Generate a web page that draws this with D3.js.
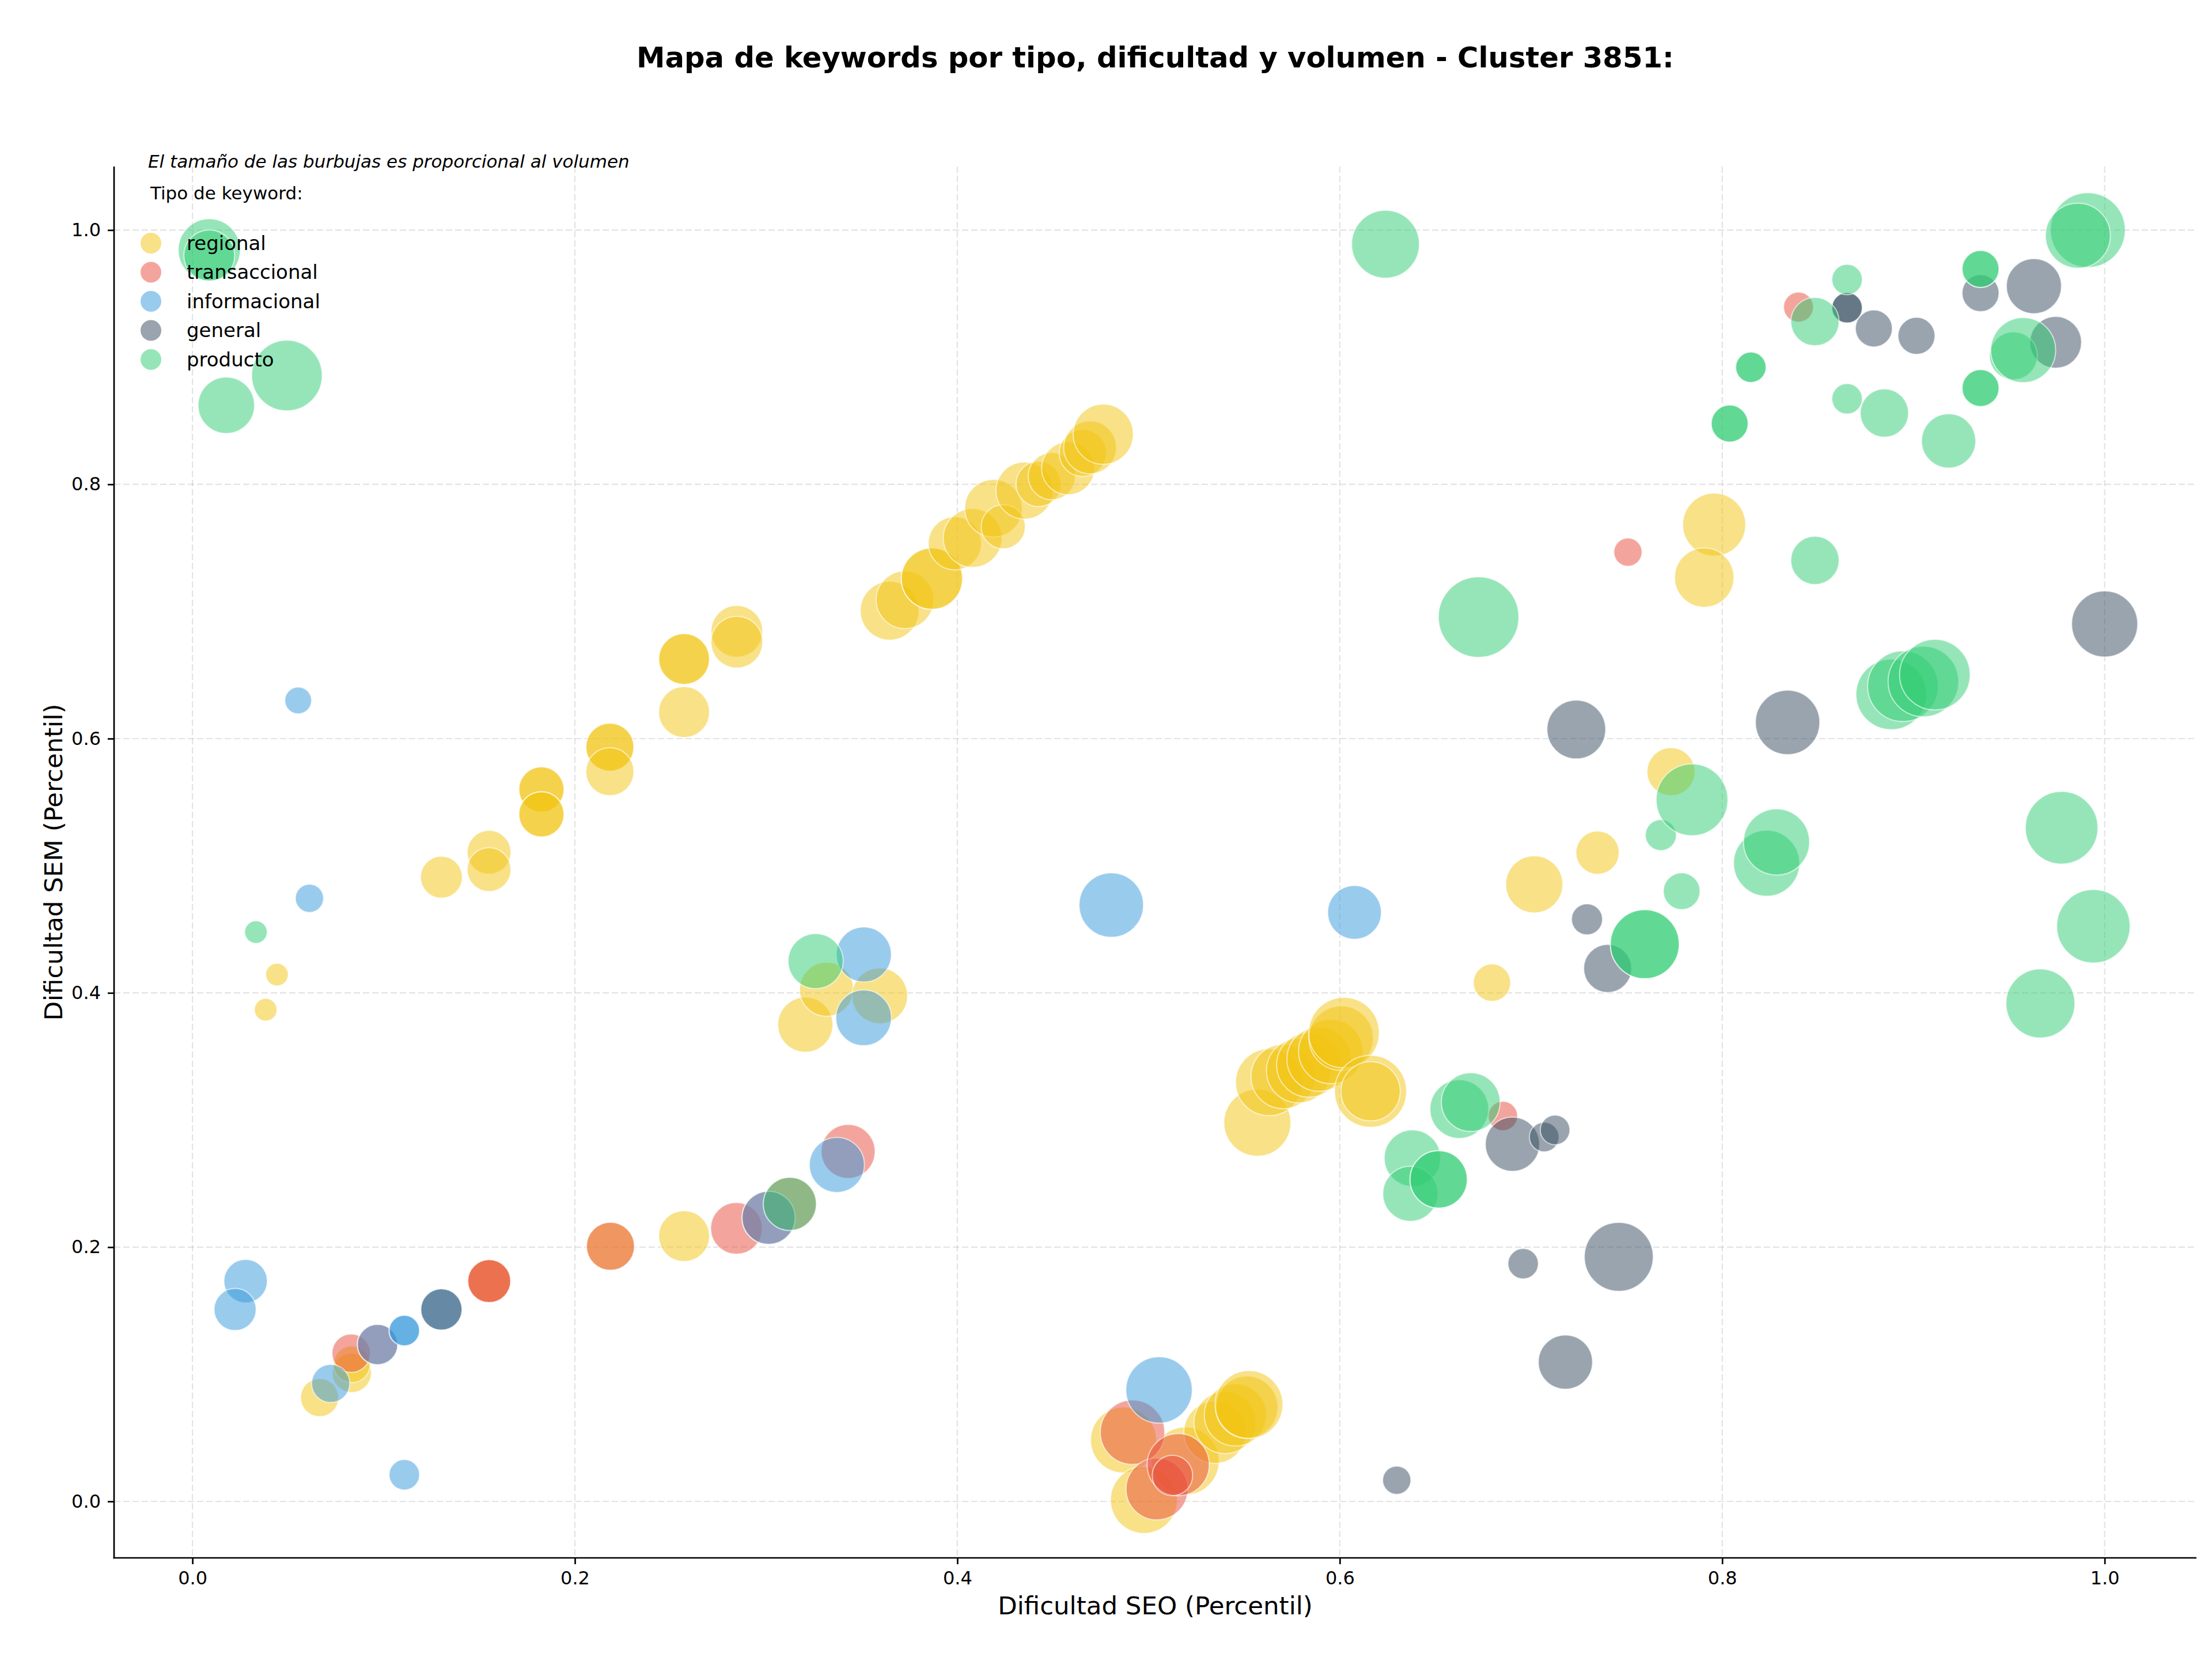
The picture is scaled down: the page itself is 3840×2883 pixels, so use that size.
<!DOCTYPE html>
<html>
<head>
<meta charset="utf-8">
<script src="https://cdnjs.cloudflare.com/ajax/libs/d3/7.8.5/d3.min.js"></script>
<style>
  body { margin: 0; background: #fff; }
  text { font-family: "DejaVu Sans", sans-serif; }
</style>
</head>
<body>
<div id="chart"></div>
<script>
// keyword types and their colours
var tipos = ["regional", "transaccional", "informacional", "general", "producto"];
var colores = ["#f1c40f", "#e74c3c", "#3498db", "#34495e", "#2ecc71"];

// [dificultad SEO, dificultad SEM, volumen]
var regional = [
    [0.0442, 0.4144, 128], [0.0383, 0.3867, 128], [0.0665, 0.0817, 365], [0.0833, 0.1011, 386], [0.0833, 0.1078, 338],
    [0.1552, 0.1733, 462], [0.2186, 0.2007, 578], [0.2571, 0.2087, 648],
    [0.1302, 0.491, 438], [0.1551, 0.5106, 480], [0.1551, 0.497, 480],
    [0.1825, 0.56, 512], [0.1825, 0.56, 512], [0.1825, 0.5404, 512], [0.1825, 0.5404, 512],
    [0.2183, 0.5933, 578], [0.2183, 0.5933, 578], [0.2183, 0.574, 578],
    [0.2571, 0.6626, 648], [0.2571, 0.6626, 648], [0.2571, 0.6209, 648],
    [0.2847, 0.6844, 670], [0.2847, 0.6759, 670],
    [0.3646, 0.7006, 865], [0.3726, 0.7092, 832], [0.3867, 0.7258, 942], [0.3867, 0.7258, 942],
    [0.3987, 0.7536, 707], [0.408, 0.7578, 865], [0.4189, 0.7812, 832], [0.424, 0.7667, 487],
    [0.4351, 0.7951, 816], [0.4425, 0.8003, 512], [0.4494, 0.8064, 558], [0.4579, 0.8126, 699],
    [0.4656, 0.8247, 558], [0.4694, 0.829, 699], [0.4763, 0.8394, 907],
    [0.3205, 0.375, 760], [0.3316, 0.4028, 730], [0.3594, 0.3977, 776],
    [0.4869, 0.0483, 1086], [0.4976, 0.0012, 1123], [0.5192, 0.0318, 1152],
    [0.5347, 0.0544, 968], [0.54, 0.062, 968], [0.5454, 0.068, 968], [0.5514, 0.0741, 968], [0.5525, 0.0762, 1152],
    [0.5569, 0.2979, 1123], [0.563, 0.3297, 1123], [0.5704, 0.3342, 1040], [0.5785, 0.3388, 1040],
    [0.5838, 0.3433, 1040], [0.5892, 0.3479, 1040], [0.5953, 0.3539, 1040], [0.6007, 0.3644, 1040], [0.6022, 0.3687, 1250],
    [0.6161, 0.3226, 1300], [0.6161, 0.3226, 882],
    [0.6796, 0.408, 348], [0.7017, 0.4854, 816], [0.7348, 0.5103, 468], [0.7732, 0.574, 578],
    [0.7958, 0.7683, 995], [0.7906, 0.7267, 882]
];

var transaccional = [
    [0.083, 0.1166, 370], [0.0968, 0.1234, 409], [0.1552, 0.1733, 462], [0.1552, 0.1733, 462],
    [0.2186, 0.2007, 578], [0.2845, 0.2148, 670], [0.3013, 0.2231, 707], [0.3124, 0.234, 707],
    [0.3429, 0.2753, 730], [0.4916, 0.0544, 1040], [0.5044, 0.0098, 959], [0.5155, 0.0289, 968],
    [0.5125, 0.0204, 409], [0.6853, 0.3032, 216], [0.7507, 0.7467, 200], [0.8399, 0.9394, 225]
];

var informacional = [
    [0.0278, 0.1733, 474], [0.0223, 0.151, 444], [0.0723, 0.0928, 365], [0.0968, 0.1234, 409],
    [0.1108, 0.1344, 233], [0.1108, 0.1344, 233], [0.1302, 0.151, 426], [0.1108, 0.021, 233],
    [0.0553, 0.63, 180], [0.0612, 0.4744, 200], [0.3013, 0.2231, 707], [0.337, 0.2647, 760],
    [0.3511, 0.4302, 760], [0.351, 0.3804, 776], [0.4805, 0.4691, 1040], [0.5055, 0.0877, 1105],
    [0.6077, 0.4633, 722]
];

var general = [
    [0.1302, 0.151, 426], [0.6298, 0.0167, 200], [0.6903, 0.281, 737], [0.7069, 0.2866, 220],
    [0.7126, 0.2922, 220], [0.6959, 0.187, 233], [0.7459, 0.1924, 1191], [0.718, 0.1096, 737],
    [0.7293, 0.4579, 242], [0.7401, 0.4192, 578], [0.7237, 0.6072, 865], [0.8342, 0.6127, 1040],
    [1.0, 0.6902, 1095], [0.9744, 0.9117, 670], [0.963, 0.9559, 760], [0.9351, 0.9504, 343],
    [0.9016, 0.9168, 343], [0.8793, 0.9226, 343], [0.8653, 0.9389, 233], [0.8653, 0.9389, 233]
];

var producto = [
    [0.0088, 0.9844, 968], [0.0088, 0.98, 648], [0.0177, 0.8622, 800], [0.0494, 0.8856, 1250],
    [0.0332, 0.4478, 128], [0.3259, 0.425, 760], [0.3124, 0.234, 707], [0.6239, 0.9889, 1152],
    [0.6726, 0.6956, 1625], [0.6625, 0.3086, 865], [0.6685, 0.3141, 865], [0.638, 0.27, 800],
    [0.6369, 0.242, 760], [0.6517, 0.2533, 824], [0.6517, 0.2533, 824], [0.7595, 0.4383, 1191],
    [0.7595, 0.4383, 1191], [0.7788, 0.48, 338], [0.7679, 0.5241, 242], [0.7842, 0.5519, 1290],
    [0.8232, 0.502, 1095], [0.8284, 0.5187, 1095], [0.8485, 0.7402, 585], [0.8884, 0.6348, 1250],
    [0.8945, 0.6412, 1250], [0.9052, 0.6449, 1250], [0.9112, 0.6503, 1250], [0.9775, 0.5299, 1321],
    [0.9941, 0.4524, 1352], [0.9664, 0.3917, 1191], [0.9912, 1.0, 1405], [0.986, 0.9956, 1058],
    [0.9351, 0.9694, 343], [0.9351, 0.9694, 343], [0.9523, 0.9011, 578], [0.9574, 0.9056, 1058],
    [0.9351, 0.8757, 343], [0.9351, 0.8757, 343], [0.9184, 0.8342, 737], [0.8848, 0.8561, 585],
    [0.8653, 0.8673, 233], [0.8653, 0.9611, 233], [0.8485, 0.928, 585], [0.815, 0.8921, 233],
    [0.815, 0.8921, 233], [0.8039, 0.8478, 343], [0.8039, 0.8478, 343]
];

var series = [regional, transaccional, informacional, general, producto];
var ticks = [0, 0.2, 0.4, 0.6, 0.8, 1.0];

//figure size and axes box
var W = 3840, H = 2883;
var box = { left: 198, right: 3813, top: 289, bottom: 2704 };

var svg = d3.select("#chart")
    .append("svg")
    .attr("width", W)
    .attr("height", H);

//scales
var xScale = d3.scaleLinear()
    .domain([-0.041, 1.048])
    .range([box.left, box.right]);

var yScale = d3.scaleLinear()
    .domain([-0.0444, 1.05])
    .range([box.bottom, box.top]);

//bubble area proportional to volume
var rScale = d3.scaleSqrt()
    .domain([0, 1600])
    .range([0, 69.3]);

//grid
var grid = svg.append("g").attr("class", "grid");
grid.selectAll(".gx")
    .data(ticks)
    .enter()
    .append("line")
    .attr("x1", function (d) { return xScale(d); })
    .attr("x2", function (d) { return xScale(d); })
    .attr("y1", box.top)
    .attr("y2", box.bottom);
grid.selectAll(".gy")
    .data(ticks)
    .enter()
    .append("line")
    .attr("x1", box.left)
    .attr("x2", box.right)
    .attr("y1", function (d) { return yScale(d); })
    .attr("y2", function (d) { return yScale(d); });
grid.selectAll("line")
    .attr("stroke", "#b0b0b0")
    .attr("stroke-opacity", 0.35)
    .attr("stroke-width", 2.2)
    .attr("stroke-dasharray", "11,5");

//bubbles, one group per keyword type
series.forEach(function (data, i) {
    svg.append("g")
        .selectAll("circle")
        .data(data)
        .enter()
        .append("circle")
        .attr("cx", function (d) { return xScale(d[0]); })
        .attr("cy", function (d) { return yScale(d[1]); })
        .attr("r", function (d) { return rScale(d[2]); })
        .attr("fill", colores[i])
        .attr("fill-opacity", 0.5)
        .attr("stroke", "#fff")
        .attr("stroke-opacity", 0.6)
        .attr("stroke-width", 2);
});

//axes
var xAxis = d3.axisBottom(xScale)
    .tickValues(ticks)
    .tickFormat(d3.format(".1f"))
    .tickSize(11)
    .tickPadding(12);
var yAxis = d3.axisLeft(yScale)
    .tickValues(ticks)
    .tickFormat(d3.format(".1f"))
    .tickSize(11)
    .tickPadding(12);

var gx = svg.append("g")
    .attr("transform", "translate(0," + box.bottom + ")")
    .call(xAxis);
var gy = svg.append("g")
    .attr("transform", "translate(" + box.left + ",0)")
    .call(yAxis);

[gx, gy].forEach(function (g) {
    g.select(".domain").remove();
    g.selectAll(".tick line").attr("stroke", "#000").attr("stroke-width", 2.7);
    g.selectAll(".tick text")
        .attr("fill", "#000")
        .style("font-family", "DejaVu Sans")
        .style("font-size", "32px");
});

//spines: only left and bottom
svg.append("line")
    .attr("x1", box.left).attr("x2", box.left)
    .attr("y1", box.top).attr("y2", box.bottom + 1.3)
    .attr("stroke", "#000").attr("stroke-width", 2.7);
svg.append("line")
    .attr("x1", box.left - 1.3).attr("x2", box.right)
    .attr("y1", box.bottom).attr("y2", box.bottom)
    .attr("stroke", "#000").attr("stroke-width", 2.7);

//title and axis labels
svg.append("text")
    .attr("x", (box.left + box.right) / 2)
    .attr("y", 100)
    .attr("dy", "0.35em")
    .attr("text-anchor", "middle")
    .attr("font-weight", "bold")
    .attr("font-size", "49.7px")
    .text("Mapa de keywords por tipo, dificultad y volumen - Cluster 3851:");

svg.append("text")
    .attr("x", (box.left + box.right) / 2)
    .attr("y", 2787)
    .attr("dy", "0.35em")
    .attr("text-anchor", "middle")
    .attr("font-size", "43.5px")
    .text("Dificultad SEO (Percentil)");

svg.append("text")
    .attr("transform", "translate(93," + (box.top + box.bottom) / 2 + ") rotate(-90)")
    .attr("dy", "0.35em")
    .attr("text-anchor", "middle")
    .attr("font-size", "43.5px")
    .text("Dificultad SEM (Percentil)");

//note and legend
svg.append("text")
    .attr("x", 257)
    .attr("y", 280)
    .attr("dy", "0.35em")
    .attr("font-style", "italic")
    .attr("font-size", "31px")
    .text("El tamaño de las burbujas es proporcional al volumen");

svg.append("text")
    .attr("x", 261)
    .attr("y", 335)
    .attr("dy", "0.35em")
    .attr("font-size", "31px")
    .text("Tipo de keyword:");

var legend = svg.append("g")
    .selectAll("g")
    .data(tipos)
    .enter()
    .append("g")
    .attr("transform", function (d, i) { return "translate(0," + (422 + i * 50.5) + ")"; });

legend.append("circle")
    .attr("cx", 262)
    .attr("cy", 0)
    .attr("r", 18)
    .attr("fill", function (d, i) { return colores[i]; })
    .attr("fill-opacity", 0.5);

legend.append("text")
    .attr("x", 324)
    .attr("y", 0)
    .attr("dy", "0.35em")
    .attr("font-size", "34px")
    .text(function (d) { return d; });
</script>
</body>
</html>
